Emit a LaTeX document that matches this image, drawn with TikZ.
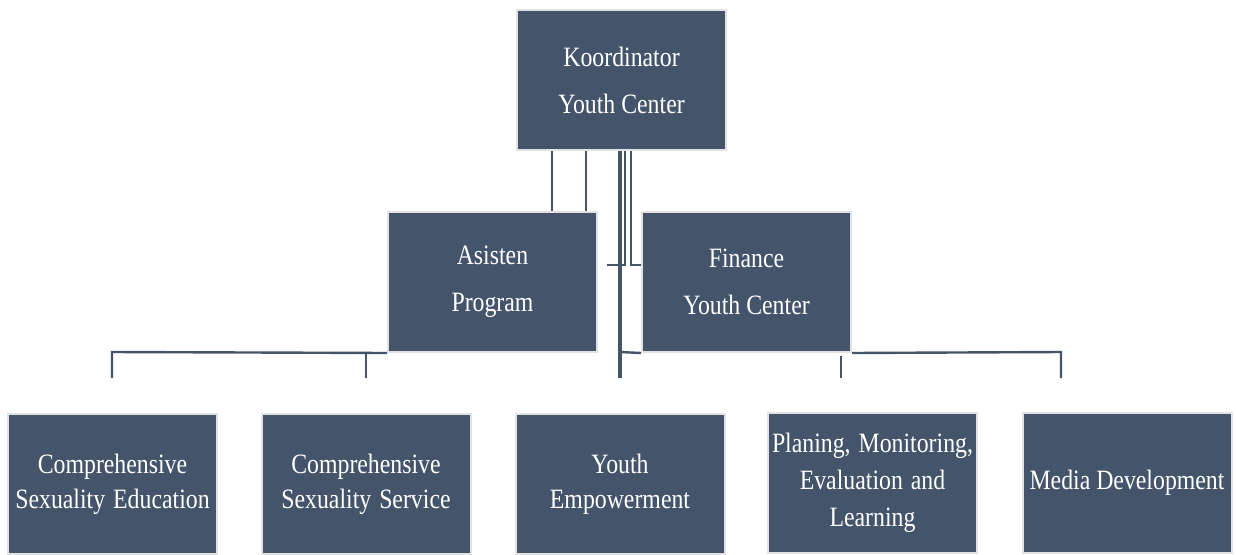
\documentclass[tikz,border=0pt]{standalone}
\usepackage{fontspec}
\setmainfont{Liberation Serif}[FakeStretch=0.85]
\definecolor{slate}{RGB}{68,84,106}
\definecolor{rim}{RGB}{226,226,226}
\newcommand{\gap}{\ \hspace{2pt}}
\begin{document}
\begin{tikzpicture}[x=1pt,y=-1pt,
  unit/.style={draw=rim, line width=2pt, fill=slate, text=white,
    minimum width=209pt, minimum height=140pt, inner sep=0pt,
    align=center, anchor=center},
  upper/.style={unit, font=\fontsize{28}{47}\selectfont},
  lower/.style={unit, font=\fontsize{28}{35}\selectfont},
  link/.style={draw=slate, line width=2.4pt},
  trunk/.style={draw=slate, line width=3.4pt}]
\useasboundingbox (0,0) rectangle (1236,554);
\fill[white] (0,0) rectangle (1236,554);

% boxes
\node[upper] (top) at (621.5,80) {Koordinator\\Youth Center};
\node[upper] (asst) at (492.5,282) {Asisten\\Program};
\node[upper] (fin) at (746.5,282) {Finance\\Youth Center};
\node[lower] (cse) at (112.5,484) {Comprehensive\\Sexuality\gap Education};
\node[lower] (css) at (366,484) {Comprehensive\\Sexuality\gap Service};
\node[lower] (ye) at (620,484) {Youth\\Empowerment};
\node[lower, font=\fontsize{28}{37}\selectfont] (pmel) at (872.5,483)
  {Planing,\gap Monitoring,\\Evaluation\gap and\\Learning};
\node[lower] (md) at (1127,483) {Media Development};

% guide coordinates for the connector lanes
\coordinate (xa) at (552,0);
\coordinate (xb) at (586,0);
\coordinate (xc) at (620,0);
\coordinate (xd) at (625,0);
\coordinate (xe) at (631,0);
\coordinate (yk) at (0,265);
\coordinate (yb) at (0,352);
\coordinate (yf) at (0,378);
\coordinate (stubL) at (607,265);
\coordinate (c1) at (112,352);
\coordinate (c2) at (366,352);
\coordinate (c4) at (841,356);
\coordinate (c5) at (1061,352);

% coordinator to the second row
\draw[link] (top.south -| xa) -- (asst.north -| xa);
\draw[link] (top.south -| xb) -- (asst.north -| xb);
\draw[trunk] (top.south -| xc) -- (xc |- yf);
\draw[link] (xc |- yb) -- (fin.south west);
\draw[link] (top.south -| xd) -- (xd |- yk) -- (stubL);
\draw[link] (top.south -| xe) -- (xe |- yk) -- (fin.west |- yk);

% Asisten Program branch
\draw[link] (asst.south west) -- (c1) -- (c1 |- yf);
\draw[link] (c2) -- (c2 |- yf);

% Finance branch
\draw[link] (fin.south east) -- (c5) -- (c5 |- yf);
\draw[link] (c4) -- (c4 |- yf);
\end{tikzpicture}
\end{document}
